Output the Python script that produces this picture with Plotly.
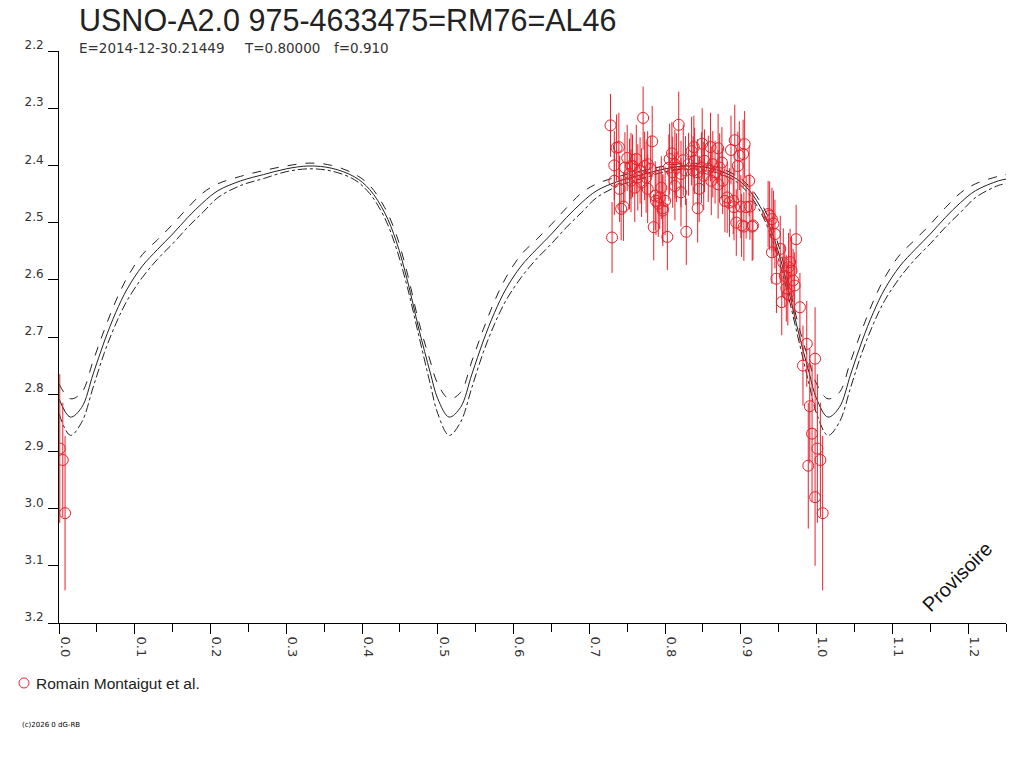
import plotly.graph_objects as go

# ---------------- texts ----------------
title_text = "USNO-A2.0 975-4633475=RM76=AL46"
sub_epoch = "E=2014-12-30.21449"
sub_period = "T=0.80000"
sub_f = "f=0.910"
legend_label = "Romain Montaigut et al."
copyright_text = "(c)2026 0 dG-RB"
stamp_text = "Provisoire"

x_ticks = [0.0, 0.1, 0.2, 0.3, 0.4, 0.5, 0.6, 0.7, 0.8, 0.9, 1.0, 1.1, 1.2]
y_ticks = [2.2, 2.3, 2.4, 2.5, 2.6, 2.7, 2.8, 2.9, 3.0, 3.1, 3.2]

# ---------------- model curves ----------------
model_phase = [0.000, 0.015, 0.030, 0.045, 0.060, 0.075, 0.090, 0.110, 0.130, 0.150,
               0.170, 0.190, 0.210, 0.240, 0.270, 0.300, 0.330, 0.360, 0.390, 0.410,
               0.430, 0.445, 0.460, 0.475, 0.490,
               0.500, 0.515, 0.530, 0.545, 0.560, 0.575, 0.590, 0.610, 0.630, 0.650,
               0.670, 0.690, 0.710, 0.740, 0.770, 0.800, 0.830, 0.860, 0.890, 0.910,
               0.930, 0.945, 0.960, 0.975, 0.990,
               1.000, 1.015, 1.030, 1.045, 1.060, 1.075, 1.090, 1.110, 1.130, 1.150,
               1.170, 1.190, 1.210, 1.240, 1.250]
model_mid = [2.808, 2.840, 2.823, 2.765, 2.707, 2.657, 2.616, 2.576, 2.547, 2.520,
             2.491, 2.465, 2.444, 2.427, 2.416, 2.406, 2.401, 2.405, 2.420, 2.442,
             2.483, 2.532, 2.602, 2.686, 2.762,
             2.808, 2.840, 2.823, 2.765, 2.707, 2.657, 2.616, 2.576, 2.547, 2.520,
             2.491, 2.465, 2.444, 2.427, 2.416, 2.406, 2.401, 2.405, 2.420, 2.442,
             2.483, 2.532, 2.602, 2.686, 2.762,
             2.808, 2.840, 2.823, 2.765, 2.707, 2.657, 2.616, 2.576, 2.547, 2.520,
             2.491, 2.465, 2.444, 2.427, 2.424]
model_bright = [2.782, 2.808, 2.797, 2.742, 2.687, 2.637, 2.596, 2.556, 2.530, 2.503,
                2.474, 2.448, 2.432, 2.419, 2.409, 2.401, 2.396, 2.400, 2.415, 2.435,
                2.474, 2.520, 2.590, 2.674, 2.742,
                2.782, 2.808, 2.797, 2.742, 2.687, 2.637, 2.596, 2.556, 2.530, 2.503,
                2.474, 2.448, 2.432, 2.419, 2.409, 2.401, 2.396, 2.400, 2.415, 2.435,
                2.474, 2.520, 2.590, 2.674, 2.742,
                2.782, 2.808, 2.797, 2.742, 2.687, 2.637, 2.596, 2.556, 2.530, 2.503,
                2.474, 2.448, 2.432, 2.419, 2.416]
model_faint = [2.834, 2.872, 2.849, 2.788, 2.727, 2.677, 2.636, 2.596, 2.564, 2.537,
               2.508, 2.482, 2.456, 2.435, 2.423, 2.411, 2.406, 2.410, 2.425, 2.449,
               2.492, 2.544, 2.614, 2.698, 2.782,
               2.834, 2.872, 2.849, 2.788, 2.727, 2.677, 2.636, 2.596, 2.564, 2.537,
               2.508, 2.482, 2.456, 2.435, 2.423, 2.411, 2.406, 2.410, 2.425, 2.449,
               2.492, 2.544, 2.614, 2.698, 2.782,
               2.834, 2.872, 2.849, 2.788, 2.727, 2.677, 2.636, 2.596, 2.564, 2.537,
               2.508, 2.482, 2.456, 2.435, 2.432]

# ---------------- observations (phase in [0,1)) ----------------
obs_phase = [0.728, 0.730, 0.733, 0.736, 0.739, 0.742, 0.745, 0.750, 0.753, 0.757,
             0.762, 0.764, 0.771, 0.773, 0.777, 0.783, 0.785, 0.788, 0.793, 0.797,
             0.803, 0.806, 0.809, 0.813, 0.818, 0.821, 0.824, 0.828, 0.835, 0.838,
             0.843, 0.845, 0.849, 0.852, 0.860, 0.863, 0.870, 0.875, 0.879, 0.887,
             0.890, 0.892, 0.894, 0.896, 0.900, 0.903, 0.905, 0.904, 0.911, 0.912,
             0.915,
             0.733, 0.740, 0.747, 0.755, 0.760, 0.767, 0.769, 0.775, 0.781, 0.787,
             0.795, 0.800, 0.805, 0.810, 0.815, 0.821, 0.827, 0.831, 0.837, 0.843,
             0.848, 0.851, 0.857, 0.861, 0.866, 0.872, 0.876, 0.882, 0.885, 0.891,
             0.898, 0.907, 0.777, 0.791, 0.797, 0.813, 0.839, 0.870, 0.755,
             0.901, 0.916, 0.936, 0.938, 0.941, 0.943, 0.945, 0.941, 0.952, 0.947,
             0.954, 0.958, 0.963, 0.965, 0.967, 0.969, 0.971, 0.973, 0.978, 0.960,
             0.956, 0.962, 0.982, 0.987, 0.991, 0.994, 0.989, 0.998, 0.998,
             0.001, 0.005, 0.008]
obs_mag = [2.330, 2.526, 2.400, 2.369, 2.368, 2.476, 2.472, 2.387, 2.415, 2.401,
           2.389, 2.421, 2.317, 2.401, 2.398, 2.358, 2.508, 2.462, 2.456, 2.475,
           2.525, 2.389, 2.379, 2.398, 2.329, 2.447, 2.391, 2.516, 2.375, 2.368,
           2.475, 2.441, 2.362, 2.392, 2.368, 2.398, 2.370, 2.395, 2.462, 2.373,
           2.462, 2.356, 2.500, 2.401, 2.472, 2.380, 2.363, 2.507, 2.427, 2.472,
           2.507,
           2.427, 2.441, 2.404, 2.427, 2.439, 2.409, 2.430, 2.421, 2.406, 2.453,
           2.439, 2.462, 2.404, 2.412, 2.404, 2.415, 2.409, 2.398, 2.409, 2.412,
           2.404, 2.418, 2.406, 2.427, 2.412, 2.404, 2.427, 2.456, 2.465, 2.473,
           2.383, 2.473, 2.441, 2.467, 2.479, 2.436, 2.392, 2.433, 2.401,
           2.505, 2.505, 2.485, 2.488, 2.494, 2.502, 2.520, 2.552, 2.546, 2.598,
           2.639, 2.593, 2.578, 2.569, 2.584, 2.601, 2.610, 2.529, 2.648, 2.615,
           2.570, 2.625, 2.750, 2.712, 2.821, 2.869, 2.925, 2.738, 2.980,
           2.895, 2.915, 3.008]
obs_err = [0.055, 0.062, 0.060, 0.058, 0.060, 0.055, 0.060, 0.058, 0.062, 0.055,
           0.060, 0.058, 0.055, 0.060, 0.058, 0.062, 0.058, 0.060, 0.055, 0.060,
           0.058, 0.062, 0.055, 0.060, 0.058, 0.060, 0.062, 0.058, 0.060, 0.055,
           0.060, 0.058, 0.062, 0.055, 0.060, 0.058, 0.060, 0.062, 0.055, 0.060,
           0.058, 0.062, 0.058, 0.060, 0.055, 0.060, 0.058, 0.060, 0.062, 0.058,
           0.060,
           0.060, 0.058, 0.062, 0.055, 0.060, 0.058, 0.060, 0.062, 0.058, 0.060,
           0.055, 0.060, 0.058, 0.062, 0.060, 0.058, 0.060, 0.055, 0.060, 0.058,
           0.062, 0.060, 0.058, 0.060, 0.055, 0.060, 0.058, 0.062, 0.060, 0.058,
           0.060, 0.055, 0.060, 0.058, 0.062, 0.060, 0.058, 0.060, 0.058,
           0.055, 0.060, 0.058, 0.060, 0.055, 0.058, 0.060, 0.055, 0.058, 0.060,
           0.058, 0.055, 0.060, 0.058, 0.060, 0.055, 0.058, 0.060, 0.060, 0.058,
           0.060, 0.055, 0.070, 0.075, 0.100, 0.120, 0.110, 0.090, 0.120,
           0.130, 0.100, 0.135]

# points near phase 0 are repeated one cycle later (phase axis runs to 1.25)
wrap_limit = 0.25
plot_phase = list(obs_phase) + [p + 1 for p in obs_phase if p < wrap_limit]
plot_mag = list(obs_mag) + [m for p, m in zip(obs_phase, obs_mag) if p < wrap_limit]
plot_err = list(obs_err) + [e for p, e in zip(obs_phase, obs_err) if p < wrap_limit]

RED = "#e8202a"
INK = "#222222"
FONT = "Liberation Sans, Arial, sans-serif"
FONT2 = "DejaVu Sans, sans-serif"

fig = go.Figure()
fig.add_trace(go.Scatter(x=model_phase, y=model_bright, mode="lines", line_shape="spline",
                         line=dict(color=INK, width=1, dash="dash"), showlegend=False, hoverinfo="skip"))
fig.add_trace(go.Scatter(x=model_phase, y=model_faint, mode="lines", line_shape="spline",
                         line=dict(color=INK, width=1, dash="dashdot"), showlegend=False, hoverinfo="skip"))
fig.add_trace(go.Scatter(x=model_phase, y=model_mid, mode="lines", line_shape="spline",
                         line=dict(color=INK, width=1), showlegend=False, hoverinfo="skip"))
fig.add_trace(go.Scatter(x=plot_phase, y=plot_mag, mode="markers", name=legend_label,
                         marker=dict(symbol="circle-open", size=11, color=RED, line=dict(width=1, color=RED)),
                         error_y=dict(type="data", array=plot_err, visible=True, color=RED,
                                      thickness=1, width=0),
                         showlegend=False))

# page-pixel frame of the plot area (page body margin is removed below)
L, R, T, B = 59, 18, 51, 145
W, H = 1024, 768
pw, ph = W - L - R, H - T - B

def px(x):
    return (x - L) / pw

def py(y):
    return (H - B - y) / ph

annotations = [
    dict(text=title_text, x=px(77), y=py(20), xref="paper", yref="paper", xanchor="left",
         yanchor="middle", showarrow=False, font=dict(family=FONT, size=30.5, color=INK)),
    dict(text=sub_epoch, x=px(77), y=py(48), xref="paper", yref="paper", xanchor="left",
         yanchor="middle", showarrow=False, font=dict(family=FONT2, size=13.5, color="#333333")),
    dict(text=sub_period, x=px(242), y=py(48), xref="paper", yref="paper", xanchor="left",
         yanchor="middle", showarrow=False, font=dict(family=FONT2, size=13.5, color="#333333")),
    dict(text=sub_f, x=px(332), y=py(48), xref="paper", yref="paper", xanchor="left",
         yanchor="middle", showarrow=False, font=dict(family=FONT2, size=13.5, color="#333333")),
    dict(text=legend_label, x=px(34), y=py(683), xref="paper", yref="paper", xanchor="left",
         yanchor="middle", showarrow=False, font=dict(family=FONT, size=15.5, color=INK)),
    dict(text=copyright_text, x=px(20), y=py(725), xref="paper", yref="paper", xanchor="left",
         yanchor="middle", showarrow=False, font=dict(family=FONT2, size=7, color="#000000")),
    dict(text=stamp_text, x=px(957), y=py(577), xref="paper", yref="paper", xanchor="center",
         yanchor="middle", showarrow=False, textangle=-45,
         font=dict(family=FONT, size=20, color="#111111")),
]

shapes = [
    dict(type="circle", xref="paper", yref="paper",
         x0=px(19), x1=px(29), y0=py(688), y1=py(678),
         line=dict(color=RED, width=1)),
]

fig.update_layout(
    width=W, height=H,
    margin=dict(l=L, r=R, t=T, b=B, pad=0),
    paper_bgcolor="white", plot_bgcolor="white",
    showlegend=False,
    annotations=annotations,
    shapes=shapes,
    xaxis=dict(range=[0, 1.25], tickvals=x_ticks, ticktext=[f"{v:.1f}" for v in x_ticks],
               ticks="outside", ticklen=10, tickwidth=1, tickcolor="#000",
               tickangle=90, ticklabelshift=6, showgrid=False, zeroline=False,
               showline=True, linecolor="#000", linewidth=1,
               minor=dict(dtick=0.05, tick0=0, ticks="outside", ticklen=8, tickcolor="#000", showgrid=False),
               tickfont=dict(family=FONT2, size=13, color="#333333")),
    yaxis=dict(range=[3.2, 2.2], tickvals=y_ticks, ticktext=[f"{v:.1f}" for v in y_ticks],
               ticks="outside", ticklen=10, tickwidth=1, tickcolor="#000",
               ticklabelshift=6, ticklabelstandoff=2,
               showgrid=False, zeroline=False,
               showline=True, linecolor="#000", linewidth=1,
               tickfont=dict(family=FONT2, size=12, color="#333333")),
)

fig.write_html("out.html", config=dict(displayModeBar=False),
               post_script="document.body.style.margin='0px';")
